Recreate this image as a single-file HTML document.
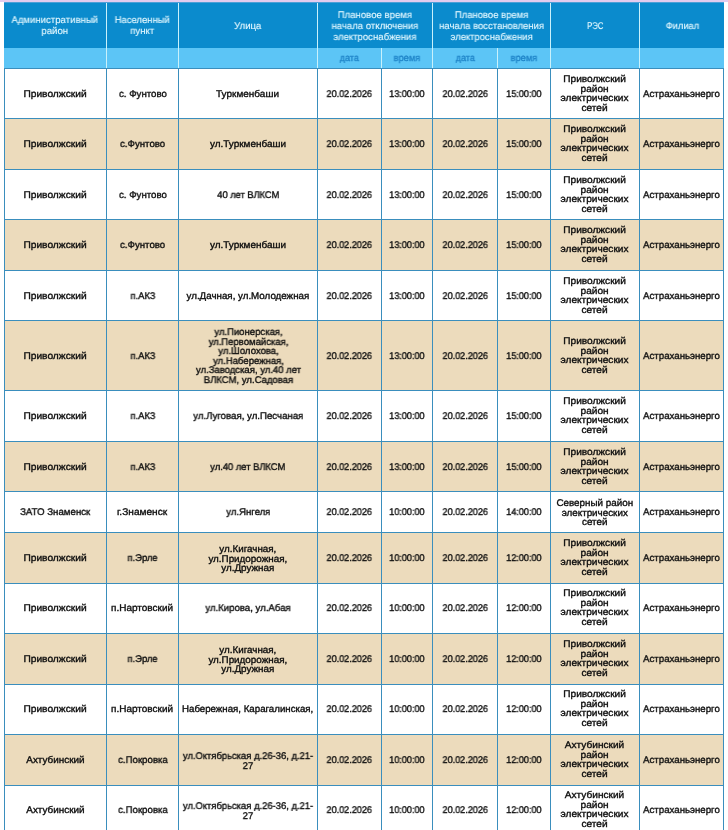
<!DOCTYPE html>
<html lang="ru"><head><meta charset="utf-8"><title>table</title>
<style>
html,body{margin:0;padding:0;}
body{width:728px;height:830px;overflow:hidden;background:#fff;position:relative;
 font-family:"Liberation Sans",sans-serif;font-size:9.7px;line-height:9.5px;color:#0e0e0e;-webkit-text-stroke:0.36px;text-rendering:geometricPrecision;}
.topbar{position:absolute;left:0;top:0;width:728px;height:2px;background:#e3ccee;}
.topbar2{position:absolute;left:4px;top:2px;width:720px;height:1px;background:#4c9fd7;}
.c{position:absolute;display:flex;align-items:center;justify-content:center;text-align:center;
 box-sizing:border-box;white-space:nowrap;}
.h{background:#0b8bcd;color:#e4f8ff;line-height:11px;-webkit-text-stroke:0.12px;}
.s{background:#5cc5f6;color:#1f84c8;}
.w{background:#fff;}
.b{background:#ecdbbc;}
.vl{position:absolute;width:1px;background:#3a8ebd;}
.hl{position:absolute;height:1px;background:#3a8ebd;left:4px;width:720px;}
.hs{position:absolute;width:1px;background:#c9f1fb;}
.t{display:inline-block;will-change:transform;}
</style></head>
<body>
<div class="topbar"></div><div class="topbar2"></div>
<div class="c h" style="left:4px;top:3px;width:102px;height:45px"><span class="t" style="transform:scaleX(0.9884)">Административный<br>район</span></div>
<div class="c h" style="left:107px;top:3px;width:71px;height:45px"><span class="t" style="transform:scaleX(0.9748)">Населенный<br>пункт</span></div>
<div class="c h" style="left:179px;top:3px;width:138px;height:45px"><span class="t" style="position:relative;top:1px;transform:scaleX(0.9885)">Улица</span></div>
<div class="c h" style="left:318px;top:3px;width:114px;height:45px"><span class="t" style="position:relative;top:1px;transform:scaleX(0.9873)">Плановое время<br>начала отключения<br>электроснабжения</span></div>
<div class="c h" style="left:433px;top:3px;width:117px;height:45px"><span class="t" style="position:relative;top:1px;transform:scaleX(0.9773)">Плановое время<br>начала восстановления<br>электроснабжения</span></div>
<div class="c h" style="left:551px;top:3px;width:88px;height:45px"><span class="t" style="position:relative;top:1px;transform:scaleX(0.7982)">РЭС</span></div>
<div class="c h" style="left:640px;top:3px;width:84px;height:45px"><span class="t" style="position:relative;top:1px;transform:scaleX(0.9573)">Филиал</span></div>
<div class="c s" style="left:4px;top:48px;width:102px;height:20px"><span class="t" style="position:relative;top:1px;"></span></div>
<div class="c s" style="left:107px;top:48px;width:71px;height:20px"><span class="t" style="position:relative;top:1px;"></span></div>
<div class="c s" style="left:179px;top:48px;width:138px;height:20px"><span class="t" style="position:relative;top:1px;"></span></div>
<div class="c s" style="left:318px;top:48px;width:63px;height:20px"><span class="t" style="position:relative;top:1px;transform:scaleX(0.9296)">дата</span></div>
<div class="c s" style="left:382px;top:48px;width:50px;height:20px"><span class="t" style="position:relative;top:1px;transform:scaleX(0.9595)">время</span></div>
<div class="c s" style="left:433px;top:48px;width:64px;height:20px"><span class="t" style="position:relative;top:1px;transform:scaleX(0.9296)">дата</span></div>
<div class="c s" style="left:498px;top:48px;width:52px;height:20px"><span class="t" style="position:relative;top:1px;transform:scaleX(0.9595)">время</span></div>
<div class="c s" style="left:551px;top:48px;width:88px;height:20px"><span class="t" style="position:relative;top:1px;"></span></div>
<div class="c s" style="left:640px;top:48px;width:84px;height:20px"><span class="t" style="position:relative;top:1px;"></span></div>
<div class="hs" style="left:106px;top:3px;height:65px"></div>
<div class="hs" style="left:178px;top:3px;height:65px"></div>
<div class="hs" style="left:317px;top:3px;height:65px"></div>
<div class="hs" style="left:381px;top:48px;height:20px"></div>
<div class="hs" style="left:432px;top:3px;height:65px"></div>
<div class="hs" style="left:497px;top:48px;height:20px"></div>
<div class="hs" style="left:550px;top:3px;height:65px"></div>
<div class="hs" style="left:639px;top:3px;height:65px"></div>
<div class="c w" style="left:5px;top:69px;width:101px;height:49px;"><span class="t" style="position:relative;top:1px;transform:scaleX(1.0531)">Приволжский</span></div>
<div class="c w" style="left:107px;top:69px;width:71px;height:49px;"><span class="t" style="position:relative;top:1px;transform:scaleX(0.9971)">с. Фунтово</span></div>
<div class="c w" style="left:179px;top:69px;width:138px;height:49px;"><span class="t" style="position:relative;top:1px;transform:scaleX(1.0306)">Туркменбаши</span></div>
<div class="c w" style="left:318px;top:69px;width:63px;height:49px;"><span class="t" style="position:relative;top:1px;transform:scaleX(0.9381)">20.02.2026</span></div>
<div class="c w" style="left:382px;top:69px;width:50px;height:49px;"><span class="t" style="position:relative;top:1px;transform:scaleX(0.9385)">13:00:00</span></div>
<div class="c w" style="left:433px;top:69px;width:64px;height:49px;"><span class="t" style="position:relative;top:1px;transform:scaleX(0.9381)">20.02.2026</span></div>
<div class="c w" style="left:498px;top:69px;width:52px;height:49px;"><span class="t" style="position:relative;top:1px;transform:scaleX(0.9385)">15:00:00</span></div>
<div class="c w" style="left:551px;top:69px;width:88px;height:49px;"><span class="t" style="transform:scaleX(1.0439)">Приволжский<br>район<br>электрических<br>сетей</span></div>
<div class="c w" style="left:640px;top:69px;width:83px;height:49px;"><span class="t" style="position:relative;top:1px;transform:scaleX(0.9983)">Астраханьэнерго</span></div>
<div class="c b" style="left:5px;top:119px;width:101px;height:50px;"><span class="t" style="position:relative;top:1px;transform:scaleX(1.0531)">Приволжский</span></div>
<div class="c b" style="left:107px;top:119px;width:71px;height:50px;"><span class="t" style="position:relative;top:1px;transform:scaleX(0.9945)">с.Фунтово</span></div>
<div class="c b" style="left:179px;top:119px;width:138px;height:50px;"><span class="t" style="position:relative;top:1px;transform:scaleX(1.0295)">ул.Туркменбаши</span></div>
<div class="c b" style="left:318px;top:119px;width:63px;height:50px;"><span class="t" style="position:relative;top:1px;transform:scaleX(0.9381)">20.02.2026</span></div>
<div class="c b" style="left:382px;top:119px;width:50px;height:50px;"><span class="t" style="position:relative;top:1px;transform:scaleX(0.9385)">13:00:00</span></div>
<div class="c b" style="left:433px;top:119px;width:64px;height:50px;"><span class="t" style="position:relative;top:1px;transform:scaleX(0.9381)">20.02.2026</span></div>
<div class="c b" style="left:498px;top:119px;width:52px;height:50px;"><span class="t" style="position:relative;top:1px;transform:scaleX(0.9385)">15:00:00</span></div>
<div class="c b" style="left:551px;top:119px;width:88px;height:50px;"><span class="t" style="transform:scaleX(1.0439)">Приволжский<br>район<br>электрических<br>сетей</span></div>
<div class="c b" style="left:640px;top:119px;width:83px;height:50px;"><span class="t" style="position:relative;top:1px;transform:scaleX(0.9983)">Астраханьэнерго</span></div>
<div class="c w" style="left:5px;top:170px;width:101px;height:49px;"><span class="t" style="position:relative;top:1px;transform:scaleX(1.0531)">Приволжский</span></div>
<div class="c w" style="left:107px;top:170px;width:71px;height:49px;"><span class="t" style="position:relative;top:1px;transform:scaleX(0.9971)">с. Фунтово</span></div>
<div class="c w" style="left:179px;top:170px;width:138px;height:49px;"><span class="t" style="position:relative;top:1px;transform:scaleX(0.9610)">40 лет ВЛКСМ</span></div>
<div class="c w" style="left:318px;top:170px;width:63px;height:49px;"><span class="t" style="position:relative;top:1px;transform:scaleX(0.9381)">20.02.2026</span></div>
<div class="c w" style="left:382px;top:170px;width:50px;height:49px;"><span class="t" style="position:relative;top:1px;transform:scaleX(0.9385)">13:00:00</span></div>
<div class="c w" style="left:433px;top:170px;width:64px;height:49px;"><span class="t" style="position:relative;top:1px;transform:scaleX(0.9381)">20.02.2026</span></div>
<div class="c w" style="left:498px;top:170px;width:52px;height:49px;"><span class="t" style="position:relative;top:1px;transform:scaleX(0.9385)">15:00:00</span></div>
<div class="c w" style="left:551px;top:170px;width:88px;height:49px;"><span class="t" style="transform:scaleX(1.0439)">Приволжский<br>район<br>электрических<br>сетей</span></div>
<div class="c w" style="left:640px;top:170px;width:83px;height:49px;"><span class="t" style="position:relative;top:1px;transform:scaleX(0.9983)">Астраханьэнерго</span></div>
<div class="c b" style="left:5px;top:220px;width:101px;height:50px;"><span class="t" style="position:relative;top:1px;transform:scaleX(1.0531)">Приволжский</span></div>
<div class="c b" style="left:107px;top:220px;width:71px;height:50px;"><span class="t" style="position:relative;top:1px;transform:scaleX(0.9945)">с.Фунтово</span></div>
<div class="c b" style="left:179px;top:220px;width:138px;height:50px;"><span class="t" style="position:relative;top:1px;transform:scaleX(1.0295)">ул.Туркменбаши</span></div>
<div class="c b" style="left:318px;top:220px;width:63px;height:50px;"><span class="t" style="position:relative;top:1px;transform:scaleX(0.9381)">20.02.2026</span></div>
<div class="c b" style="left:382px;top:220px;width:50px;height:50px;"><span class="t" style="position:relative;top:1px;transform:scaleX(0.9385)">13:00:00</span></div>
<div class="c b" style="left:433px;top:220px;width:64px;height:50px;"><span class="t" style="position:relative;top:1px;transform:scaleX(0.9381)">20.02.2026</span></div>
<div class="c b" style="left:498px;top:220px;width:52px;height:50px;"><span class="t" style="position:relative;top:1px;transform:scaleX(0.9385)">15:00:00</span></div>
<div class="c b" style="left:551px;top:220px;width:88px;height:50px;"><span class="t" style="transform:scaleX(1.0439)">Приволжский<br>район<br>электрических<br>сетей</span></div>
<div class="c b" style="left:640px;top:220px;width:83px;height:50px;"><span class="t" style="position:relative;top:1px;transform:scaleX(0.9983)">Астраханьэнерго</span></div>
<div class="c w" style="left:5px;top:271px;width:101px;height:49px;"><span class="t" style="position:relative;top:1px;transform:scaleX(1.0531)">Приволжский</span></div>
<div class="c w" style="left:107px;top:271px;width:71px;height:49px;"><span class="t" style="position:relative;top:1px;transform:scaleX(0.9614)">п.АКЗ</span></div>
<div class="c w" style="left:179px;top:271px;width:138px;height:49px;"><span class="t" style="position:relative;top:1px;transform:scaleX(1.0074)">ул.Дачная, ул.Молодежная</span></div>
<div class="c w" style="left:318px;top:271px;width:63px;height:49px;"><span class="t" style="position:relative;top:1px;transform:scaleX(0.9381)">20.02.2026</span></div>
<div class="c w" style="left:382px;top:271px;width:50px;height:49px;"><span class="t" style="position:relative;top:1px;transform:scaleX(0.9385)">13:00:00</span></div>
<div class="c w" style="left:433px;top:271px;width:64px;height:49px;"><span class="t" style="position:relative;top:1px;transform:scaleX(0.9381)">20.02.2026</span></div>
<div class="c w" style="left:498px;top:271px;width:52px;height:49px;"><span class="t" style="position:relative;top:1px;transform:scaleX(0.9385)">15:00:00</span></div>
<div class="c w" style="left:551px;top:271px;width:88px;height:49px;"><span class="t" style="transform:scaleX(1.0439)">Приволжский<br>район<br>электрических<br>сетей</span></div>
<div class="c w" style="left:640px;top:271px;width:83px;height:49px;"><span class="t" style="position:relative;top:1px;transform:scaleX(0.9983)">Астраханьэнерго</span></div>
<div class="c b" style="left:5px;top:321px;width:101px;height:69px;"><span class="t" style="position:relative;top:1px;transform:scaleX(1.0531)">Приволжский</span></div>
<div class="c b" style="left:107px;top:321px;width:71px;height:69px;"><span class="t" style="position:relative;top:1px;transform:scaleX(0.9614)">п.АКЗ</span></div>
<div class="c b" style="left:179px;top:321px;width:138px;height:69px;"><span class="t" style="position:relative;top:1px;transform:scaleX(0.9832)">ул.Пионерская,<br>ул.Первомайская,<br>ул.Шолохова,<br>ул.Набережная,<br>ул.Заводская, ул.40 лет<br>ВЛКСМ, ул.Садовая</span></div>
<div class="c b" style="left:318px;top:321px;width:63px;height:69px;"><span class="t" style="position:relative;top:1px;transform:scaleX(0.9381)">20.02.2026</span></div>
<div class="c b" style="left:382px;top:321px;width:50px;height:69px;"><span class="t" style="position:relative;top:1px;transform:scaleX(0.9385)">13:00:00</span></div>
<div class="c b" style="left:433px;top:321px;width:64px;height:69px;"><span class="t" style="position:relative;top:1px;transform:scaleX(0.9381)">20.02.2026</span></div>
<div class="c b" style="left:498px;top:321px;width:52px;height:69px;"><span class="t" style="position:relative;top:1px;transform:scaleX(0.9385)">15:00:00</span></div>
<div class="c b" style="left:551px;top:321px;width:88px;height:69px;"><span class="t" style="transform:scaleX(1.0439)">Приволжский<br>район<br>электрических<br>сетей</span></div>
<div class="c b" style="left:640px;top:321px;width:83px;height:69px;"><span class="t" style="position:relative;top:1px;transform:scaleX(0.9983)">Астраханьэнерго</span></div>
<div class="c w" style="left:5px;top:391px;width:101px;height:50px;"><span class="t" style="position:relative;top:1px;transform:scaleX(1.0531)">Приволжский</span></div>
<div class="c w" style="left:107px;top:391px;width:71px;height:50px;"><span class="t" style="position:relative;top:1px;transform:scaleX(0.9614)">п.АКЗ</span></div>
<div class="c w" style="left:179px;top:391px;width:138px;height:50px;"><span class="t" style="position:relative;top:1px;transform:scaleX(0.9952)">ул.Луговая, ул.Песчаная</span></div>
<div class="c w" style="left:318px;top:391px;width:63px;height:50px;"><span class="t" style="position:relative;top:1px;transform:scaleX(0.9381)">20.02.2026</span></div>
<div class="c w" style="left:382px;top:391px;width:50px;height:50px;"><span class="t" style="position:relative;top:1px;transform:scaleX(0.9385)">13:00:00</span></div>
<div class="c w" style="left:433px;top:391px;width:64px;height:50px;"><span class="t" style="position:relative;top:1px;transform:scaleX(0.9381)">20.02.2026</span></div>
<div class="c w" style="left:498px;top:391px;width:52px;height:50px;"><span class="t" style="position:relative;top:1px;transform:scaleX(0.9385)">15:00:00</span></div>
<div class="c w" style="left:551px;top:391px;width:88px;height:50px;"><span class="t" style="transform:scaleX(1.0439)">Приволжский<br>район<br>электрических<br>сетей</span></div>
<div class="c w" style="left:640px;top:391px;width:83px;height:50px;"><span class="t" style="position:relative;top:1px;transform:scaleX(0.9983)">Астраханьэнерго</span></div>
<div class="c b" style="left:5px;top:442px;width:101px;height:49px;"><span class="t" style="position:relative;top:1px;transform:scaleX(1.0531)">Приволжский</span></div>
<div class="c b" style="left:107px;top:442px;width:71px;height:49px;"><span class="t" style="position:relative;top:1px;transform:scaleX(0.9614)">п.АКЗ</span></div>
<div class="c b" style="left:179px;top:442px;width:138px;height:49px;"><span class="t" style="position:relative;top:1px;transform:scaleX(0.9677)">ул.40 лет ВЛКСМ</span></div>
<div class="c b" style="left:318px;top:442px;width:63px;height:49px;"><span class="t" style="position:relative;top:1px;transform:scaleX(0.9381)">20.02.2026</span></div>
<div class="c b" style="left:382px;top:442px;width:50px;height:49px;"><span class="t" style="position:relative;top:1px;transform:scaleX(0.9385)">13:00:00</span></div>
<div class="c b" style="left:433px;top:442px;width:64px;height:49px;"><span class="t" style="position:relative;top:1px;transform:scaleX(0.9381)">20.02.2026</span></div>
<div class="c b" style="left:498px;top:442px;width:52px;height:49px;"><span class="t" style="position:relative;top:1px;transform:scaleX(0.9385)">15:00:00</span></div>
<div class="c b" style="left:551px;top:442px;width:88px;height:49px;"><span class="t" style="transform:scaleX(1.0439)">Приволжский<br>район<br>электрических<br>сетей</span></div>
<div class="c b" style="left:640px;top:442px;width:83px;height:49px;"><span class="t" style="position:relative;top:1px;transform:scaleX(0.9983)">Астраханьэнерго</span></div>
<div class="c w" style="left:5px;top:492px;width:101px;height:40px;"><span class="t" style="position:relative;top:1px;transform:scaleX(0.9951)">ЗАТО Знаменск</span></div>
<div class="c w" style="left:107px;top:492px;width:71px;height:40px;"><span class="t" style="position:relative;top:1px;transform:scaleX(1.0452)">г.Знаменск</span></div>
<div class="c w" style="left:179px;top:492px;width:138px;height:40px;"><span class="t" style="position:relative;top:1px;transform:scaleX(0.9863)">ул.Янгеля</span></div>
<div class="c w" style="left:318px;top:492px;width:63px;height:40px;"><span class="t" style="position:relative;top:1px;transform:scaleX(0.9381)">20.02.2026</span></div>
<div class="c w" style="left:382px;top:492px;width:50px;height:40px;"><span class="t" style="position:relative;top:1px;transform:scaleX(0.9385)">10:00:00</span></div>
<div class="c w" style="left:433px;top:492px;width:64px;height:40px;"><span class="t" style="position:relative;top:1px;transform:scaleX(0.9381)">20.02.2026</span></div>
<div class="c w" style="left:498px;top:492px;width:52px;height:40px;"><span class="t" style="position:relative;top:1px;transform:scaleX(0.9385)">14:00:00</span></div>
<div class="c w" style="left:551px;top:492px;width:88px;height:40px;"><span class="t" style="position:relative;top:1px;transform:scaleX(1.0153)">Северный район<br>электрических<br>сетей</span></div>
<div class="c w" style="left:640px;top:492px;width:83px;height:40px;"><span class="t" style="position:relative;top:1px;transform:scaleX(0.9983)">Астраханьэнерго</span></div>
<div class="c b" style="left:5px;top:533px;width:101px;height:50px;"><span class="t" style="position:relative;top:1px;transform:scaleX(1.0531)">Приволжский</span></div>
<div class="c b" style="left:107px;top:533px;width:71px;height:50px;"><span class="t" style="position:relative;top:1px;transform:scaleX(0.9710)">п.Эрле</span></div>
<div class="c b" style="left:179px;top:533px;width:138px;height:50px;"><span class="t" style="position:relative;top:1px;transform:scaleX(1.0153)">ул.Кигачная,<br>ул.Придорожная,<br>ул.Дружная</span></div>
<div class="c b" style="left:318px;top:533px;width:63px;height:50px;"><span class="t" style="position:relative;top:1px;transform:scaleX(0.9381)">20.02.2026</span></div>
<div class="c b" style="left:382px;top:533px;width:50px;height:50px;"><span class="t" style="position:relative;top:1px;transform:scaleX(0.9385)">10:00:00</span></div>
<div class="c b" style="left:433px;top:533px;width:64px;height:50px;"><span class="t" style="position:relative;top:1px;transform:scaleX(0.9381)">20.02.2026</span></div>
<div class="c b" style="left:498px;top:533px;width:52px;height:50px;"><span class="t" style="position:relative;top:1px;transform:scaleX(0.9385)">12:00:00</span></div>
<div class="c b" style="left:551px;top:533px;width:88px;height:50px;"><span class="t" style="transform:scaleX(1.0439)">Приволжский<br>район<br>электрических<br>сетей</span></div>
<div class="c b" style="left:640px;top:533px;width:83px;height:50px;"><span class="t" style="position:relative;top:1px;transform:scaleX(0.9983)">Астраханьэнерго</span></div>
<div class="c w" style="left:5px;top:584px;width:101px;height:49px;padding-bottom:2px;"><span class="t" style="position:relative;top:1px;transform:scaleX(1.0531)">Приволжский</span></div>
<div class="c w" style="left:107px;top:584px;width:71px;height:49px;padding-bottom:2px;"><span class="t" style="position:relative;top:1px;transform:scaleX(1.0306)">п.Нартовский</span></div>
<div class="c w" style="left:179px;top:584px;width:138px;height:49px;padding-bottom:2px;"><span class="t" style="position:relative;top:1px;transform:scaleX(0.9905)">ул.Кирова, ул.Абая</span></div>
<div class="c w" style="left:318px;top:584px;width:63px;height:49px;padding-bottom:2px;"><span class="t" style="position:relative;top:1px;transform:scaleX(0.9381)">20.02.2026</span></div>
<div class="c w" style="left:382px;top:584px;width:50px;height:49px;padding-bottom:2px;"><span class="t" style="position:relative;top:1px;transform:scaleX(0.9385)">10:00:00</span></div>
<div class="c w" style="left:433px;top:584px;width:64px;height:49px;padding-bottom:2px;"><span class="t" style="position:relative;top:1px;transform:scaleX(0.9381)">20.02.2026</span></div>
<div class="c w" style="left:498px;top:584px;width:52px;height:49px;padding-bottom:2px;"><span class="t" style="position:relative;top:1px;transform:scaleX(0.9385)">12:00:00</span></div>
<div class="c w" style="left:551px;top:584px;width:88px;height:49px;padding-bottom:2px;"><span class="t" style="transform:scaleX(1.0439)">Приволжский<br>район<br>электрических<br>сетей</span></div>
<div class="c w" style="left:640px;top:584px;width:83px;height:49px;padding-bottom:2px;"><span class="t" style="position:relative;top:1px;transform:scaleX(0.9983)">Астраханьэнерго</span></div>
<div class="c b" style="left:5px;top:634px;width:101px;height:50px;"><span class="t" style="position:relative;top:1px;transform:scaleX(1.0531)">Приволжский</span></div>
<div class="c b" style="left:107px;top:634px;width:71px;height:50px;"><span class="t" style="position:relative;top:1px;transform:scaleX(0.9710)">п.Эрле</span></div>
<div class="c b" style="left:179px;top:634px;width:138px;height:50px;"><span class="t" style="position:relative;top:1px;transform:scaleX(1.0153)">ул.Кигачная,<br>ул.Придорожная,<br>ул.Дружная</span></div>
<div class="c b" style="left:318px;top:634px;width:63px;height:50px;"><span class="t" style="position:relative;top:1px;transform:scaleX(0.9381)">20.02.2026</span></div>
<div class="c b" style="left:382px;top:634px;width:50px;height:50px;"><span class="t" style="position:relative;top:1px;transform:scaleX(0.9385)">10:00:00</span></div>
<div class="c b" style="left:433px;top:634px;width:64px;height:50px;"><span class="t" style="position:relative;top:1px;transform:scaleX(0.9381)">20.02.2026</span></div>
<div class="c b" style="left:498px;top:634px;width:52px;height:50px;"><span class="t" style="position:relative;top:1px;transform:scaleX(0.9385)">12:00:00</span></div>
<div class="c b" style="left:551px;top:634px;width:88px;height:50px;"><span class="t" style="transform:scaleX(1.0439)">Приволжский<br>район<br>электрических<br>сетей</span></div>
<div class="c b" style="left:640px;top:634px;width:83px;height:50px;"><span class="t" style="position:relative;top:1px;transform:scaleX(0.9983)">Астраханьэнерго</span></div>
<div class="c w" style="left:5px;top:685px;width:101px;height:49px;padding-bottom:2px;"><span class="t" style="position:relative;top:1px;transform:scaleX(1.0531)">Приволжский</span></div>
<div class="c w" style="left:107px;top:685px;width:71px;height:49px;padding-bottom:2px;"><span class="t" style="position:relative;top:1px;transform:scaleX(1.0306)">п.Нартовский</span></div>
<div class="c w" style="left:179px;top:685px;width:138px;height:49px;padding-bottom:2px;"><span class="t" style="position:relative;top:1px;transform:scaleX(1.0001)">Набережная, Карагалинская,</span></div>
<div class="c w" style="left:318px;top:685px;width:63px;height:49px;padding-bottom:2px;"><span class="t" style="position:relative;top:1px;transform:scaleX(0.9381)">20.02.2026</span></div>
<div class="c w" style="left:382px;top:685px;width:50px;height:49px;padding-bottom:2px;"><span class="t" style="position:relative;top:1px;transform:scaleX(0.9385)">10:00:00</span></div>
<div class="c w" style="left:433px;top:685px;width:64px;height:49px;padding-bottom:2px;"><span class="t" style="position:relative;top:1px;transform:scaleX(0.9381)">20.02.2026</span></div>
<div class="c w" style="left:498px;top:685px;width:52px;height:49px;padding-bottom:2px;"><span class="t" style="position:relative;top:1px;transform:scaleX(0.9385)">12:00:00</span></div>
<div class="c w" style="left:551px;top:685px;width:88px;height:49px;padding-bottom:2px;"><span class="t" style="transform:scaleX(1.0439)">Приволжский<br>район<br>электрических<br>сетей</span></div>
<div class="c w" style="left:640px;top:685px;width:83px;height:49px;padding-bottom:2px;"><span class="t" style="position:relative;top:1px;transform:scaleX(0.9983)">Астраханьэнерго</span></div>
<div class="c b" style="left:5px;top:735px;width:101px;height:50px;"><span class="t" style="position:relative;top:1px;transform:scaleX(1.0260)">Ахтубинский</span></div>
<div class="c b" style="left:107px;top:735px;width:71px;height:50px;"><span class="t" style="position:relative;top:1px;transform:scaleX(0.9922)">с.Покровка</span></div>
<div class="c b" style="left:179px;top:735px;width:138px;height:50px;"><span class="t" style="position:relative;top:1px;transform:scaleX(0.9724)">ул.Октябрьская д.26-36, д.21-<br>27</span></div>
<div class="c b" style="left:318px;top:735px;width:63px;height:50px;"><span class="t" style="position:relative;top:1px;transform:scaleX(0.9381)">20.02.2026</span></div>
<div class="c b" style="left:382px;top:735px;width:50px;height:50px;"><span class="t" style="position:relative;top:1px;transform:scaleX(0.9385)">10:00:00</span></div>
<div class="c b" style="left:433px;top:735px;width:64px;height:50px;"><span class="t" style="position:relative;top:1px;transform:scaleX(0.9381)">20.02.2026</span></div>
<div class="c b" style="left:498px;top:735px;width:52px;height:50px;"><span class="t" style="position:relative;top:1px;transform:scaleX(0.9385)">12:00:00</span></div>
<div class="c b" style="left:551px;top:735px;width:88px;height:50px;"><span class="t" style="transform:scaleX(1.0439)">Ахтубинский<br>район<br>электрических<br>сетей</span></div>
<div class="c b" style="left:640px;top:735px;width:83px;height:50px;"><span class="t" style="position:relative;top:1px;transform:scaleX(0.9983)">Астраханьэнерго</span></div>
<div class="c w" style="left:5px;top:786px;width:101px;height:50px;padding-bottom:2px;"><span class="t" style="position:relative;top:1px;transform:scaleX(1.0260)">Ахтубинский</span></div>
<div class="c w" style="left:107px;top:786px;width:71px;height:50px;padding-bottom:2px;"><span class="t" style="position:relative;top:1px;transform:scaleX(0.9922)">с.Покровка</span></div>
<div class="c w" style="left:179px;top:786px;width:138px;height:50px;padding-bottom:2px;"><span class="t" style="position:relative;top:1px;transform:scaleX(0.9724)">ул.Октябрьская д.26-36, д.21-<br>27</span></div>
<div class="c w" style="left:318px;top:786px;width:63px;height:50px;padding-bottom:2px;"><span class="t" style="position:relative;top:1px;transform:scaleX(0.9381)">20.02.2026</span></div>
<div class="c w" style="left:382px;top:786px;width:50px;height:50px;padding-bottom:2px;"><span class="t" style="position:relative;top:1px;transform:scaleX(0.9385)">10:00:00</span></div>
<div class="c w" style="left:433px;top:786px;width:64px;height:50px;padding-bottom:2px;"><span class="t" style="position:relative;top:1px;transform:scaleX(0.9381)">20.02.2026</span></div>
<div class="c w" style="left:498px;top:786px;width:52px;height:50px;padding-bottom:2px;"><span class="t" style="position:relative;top:1px;transform:scaleX(0.9385)">12:00:00</span></div>
<div class="c w" style="left:551px;top:786px;width:88px;height:50px;padding-bottom:2px;"><span class="t" style="transform:scaleX(1.0439)">Ахтубинский<br>район<br>электрических<br>сетей</span></div>
<div class="c w" style="left:640px;top:786px;width:83px;height:50px;padding-bottom:2px;"><span class="t" style="position:relative;top:1px;transform:scaleX(0.9983)">Астраханьэнерго</span></div>
<div class="hl" style="top:68px"></div>
<div class="hl" style="top:118px"></div>
<div class="hl" style="top:169px"></div>
<div class="hl" style="top:219px"></div>
<div class="hl" style="top:270px"></div>
<div class="hl" style="top:320px"></div>
<div class="hl" style="top:390px"></div>
<div class="hl" style="top:441px"></div>
<div class="hl" style="top:491px"></div>
<div class="hl" style="top:532px"></div>
<div class="hl" style="top:583px"></div>
<div class="hl" style="top:633px"></div>
<div class="hl" style="top:684px"></div>
<div class="hl" style="top:734px"></div>
<div class="hl" style="top:785px"></div>
<div class="vl" style="left:4px;top:68px;height:762px"></div>
<div class="vl" style="left:106px;top:68px;height:762px"></div>
<div class="vl" style="left:178px;top:68px;height:762px"></div>
<div class="vl" style="left:317px;top:68px;height:762px"></div>
<div class="vl" style="left:381px;top:68px;height:762px"></div>
<div class="vl" style="left:432px;top:68px;height:762px"></div>
<div class="vl" style="left:497px;top:68px;height:762px"></div>
<div class="vl" style="left:550px;top:68px;height:762px"></div>
<div class="vl" style="left:639px;top:68px;height:762px"></div>
<div class="vl" style="left:723px;top:68px;height:762px"></div>
</body></html>
